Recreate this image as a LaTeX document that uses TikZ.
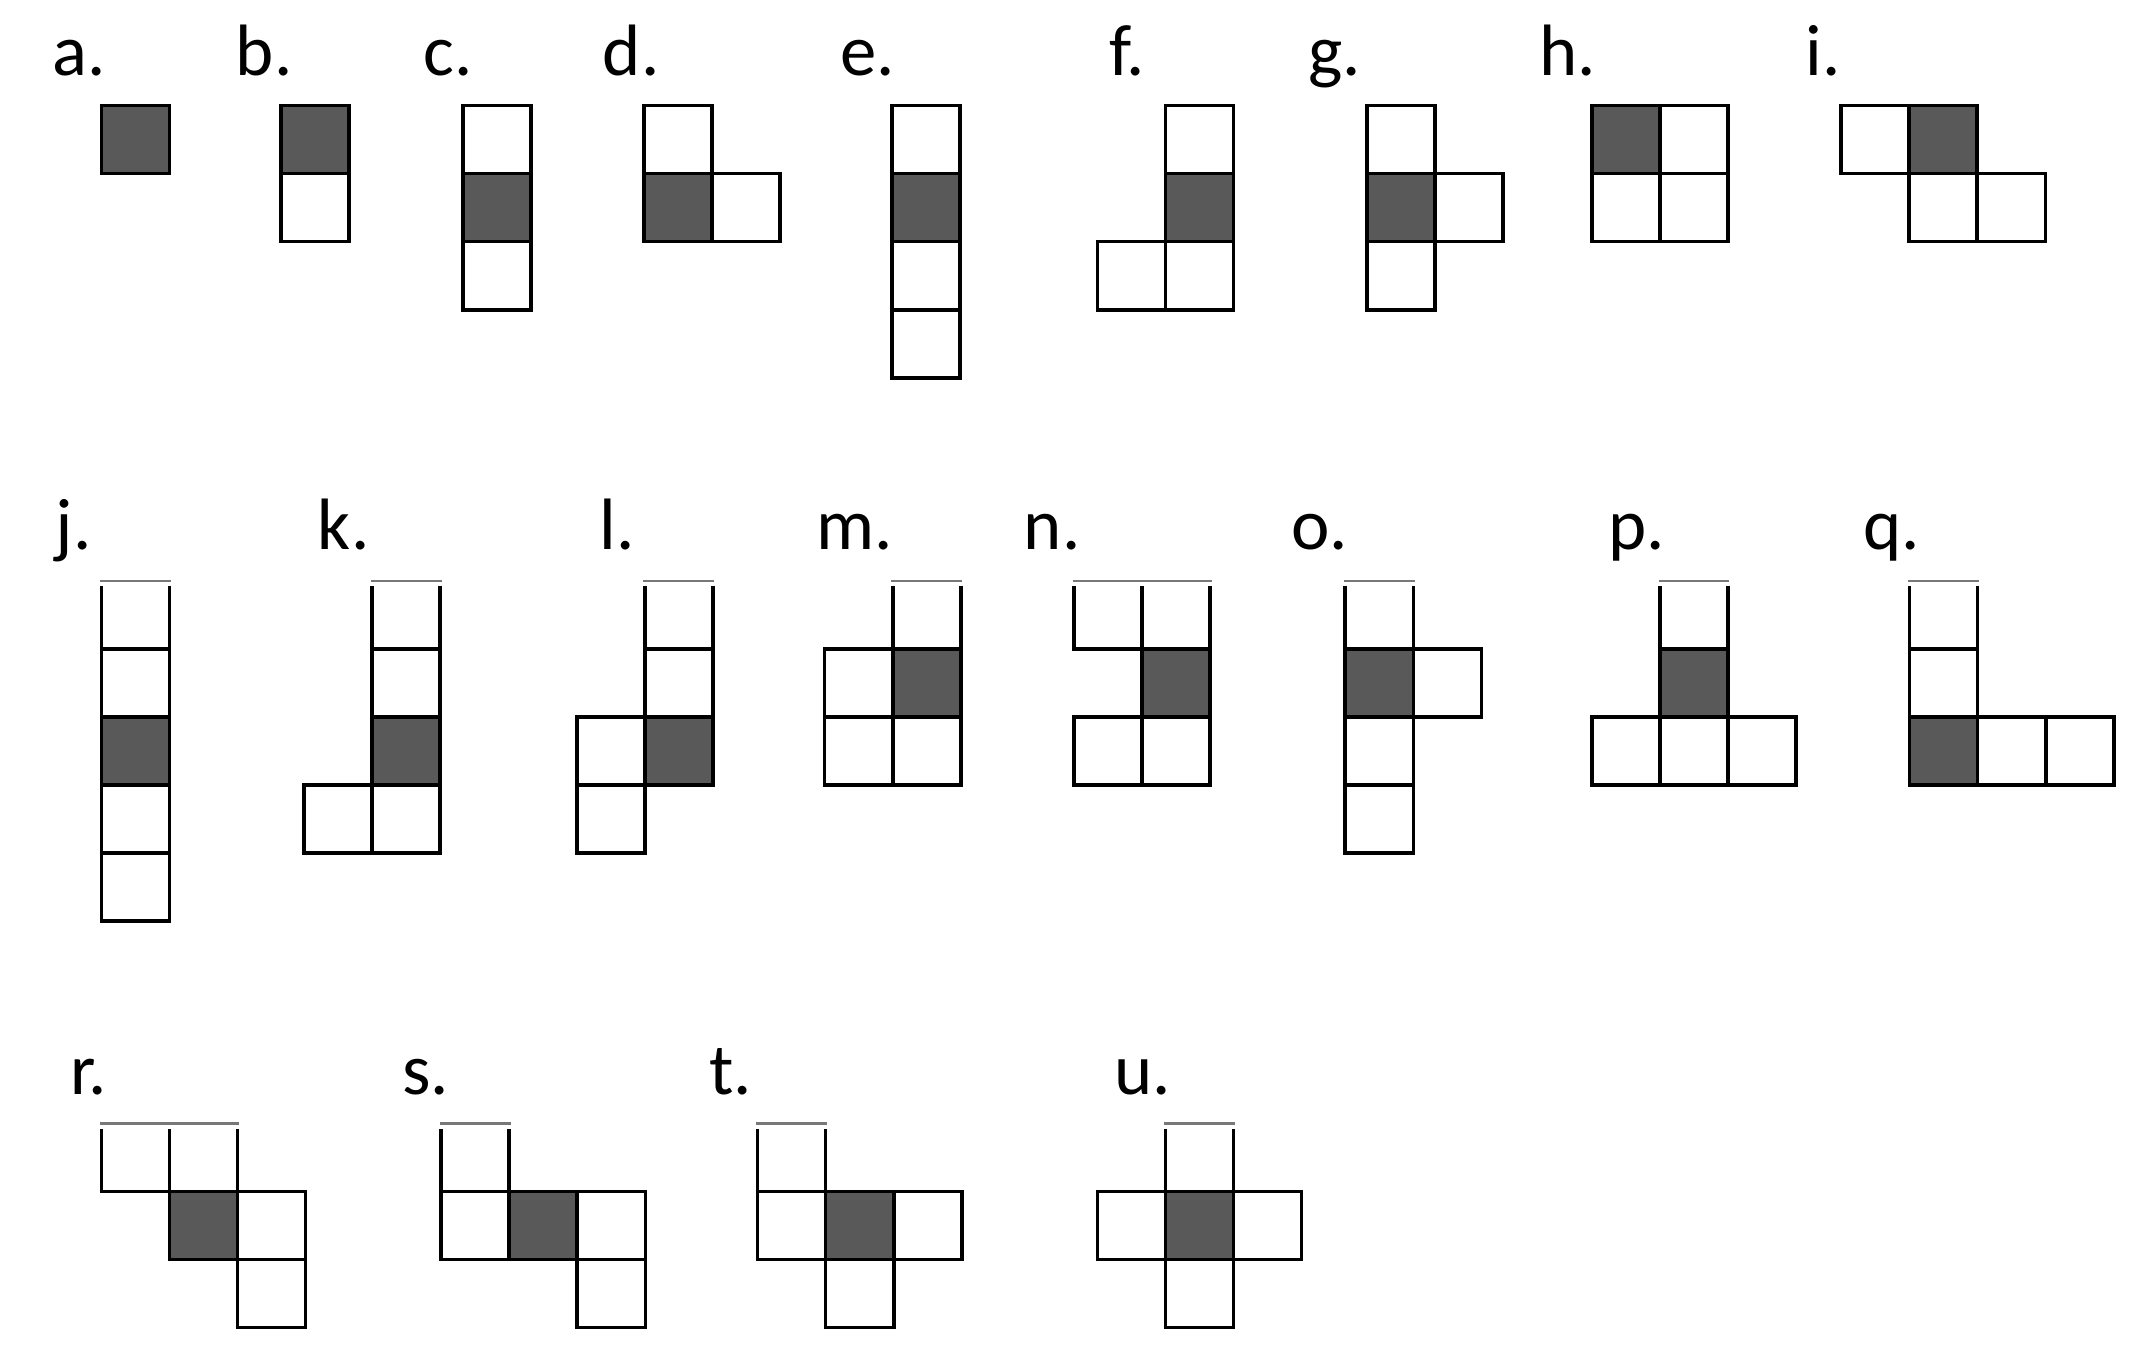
\documentclass[tikz,border=0pt]{standalone}
\usepackage{fontspec}
\setmainfont{Carlito}
\definecolor{coregray}{RGB}{89,89,89}
\definecolor{lidgray}{RGB}{120,120,120}
\begin{document}
\begin{tikzpicture}[
    x=1cm, y=-1cm,
    cell/.style={draw, line width=1.5pt, minimum size=1cm, inner sep=0pt, outer sep=0pt, anchor=north west},
    core/.style={cell, fill=coregray},
    tag/.style={anchor=base west, inner sep=0pt, font=\fontsize{30.4}{36}\selectfont},
    lid/.style={draw=lidgray, line width=1.1pt}
]
\useasboundingbox (0,0) rectangle (31.55,19.947);

% Row 1
\node[tag] (ta) at (0.77,1.115) {a.};
\node[core] (a0) at (1.489,1.549) {};

\node[tag] (tb) at (3.457,1.115) {b.};
\node[cell] (b1) at (4.125,2.549) {};
\node[core] (b0) at (4.125,1.549) {};

\node[tag] (tc) at (6.213,1.115) {c.};
\foreach \dx/\dy [count=\n] in {0/0,0/2} \node[cell] (c\n) at (6.801+\dx,1.549+\dy) {};
\node[core] (c0) at (6.801,2.549) {};

\node[tag] (td) at (8.849,1.115) {d.};
\foreach \dx/\dy [count=\n] in {0/0,1/1} \node[cell] (d\n) at (9.457+\dx,1.549+\dy) {};
\node[core] (d0) at (9.457,2.549) {};

\node[tag] (te) at (12.335,1.115) {e.};
\foreach \dx/\dy [count=\n] in {0/0,0/2,0/3} \node[cell] (e\n) at (13.099+\dx,1.549+\dy) {};
\node[core] (e0) at (13.099,2.549) {};

\node[tag] (tf) at (16.287,1.115) {f.};
\foreach \dx/\dy [count=\n] in {1/0,0/2,1/2} \node[cell] (f\n) at (16.117+\dx,1.549+\dy) {};
\node[core] (f0) at (17.117,2.549) {};

\node[tag] (tg) at (19.205,1.115) {g.};
\foreach \dx/\dy [count=\n] in {0/0,1/1,0/2} \node[cell] (g\n) at (20.080+\dx,1.549+\dy) {};
\node[core] (g0) at (20.080,2.549) {};

\node[tag] (th) at (22.600,1.115) {h.};
\foreach \dx/\dy [count=\n] in {1/0,0/1,1/1} \node[cell] (h\n) at (23.380+\dx,1.549+\dy) {};
\node[core] (h0) at (23.380,1.549) {};

\node[tag] (ti) at (26.514,1.115) {i.};
\foreach \dx/\dy [count=\n] in {0/0,1/1,2/1} \node[cell] (i\n) at (27.042+\dx,1.549+\dy) {};
\node[core] (i0) at (28.042,1.549) {};

% Row 2
\node[tag] (tj) at (0.811,8.077) {j.};
\foreach \dx/\dy [count=\n] in {0/0,0/1,0/3,0/4} \node[cell] (j\n) at (1.489+\dx,8.531+\dy) {};
\node[core] (j0) at (1.489,10.531) {};

\node[tag] (tk) at (4.663,8.077) {k.};
\foreach \dx/\dy [count=\n] in {1/0,1/1,0/3,1/3} \node[cell] (k\n) at (4.467+\dx,8.531+\dy) {};
\node[core] (k0) at (5.467,10.531) {};

\node[tag] (tl) at (8.797,8.077) {l.};
\foreach \dx/\dy [count=\n] in {1/0,1/1,0/2,0/3} \node[cell] (l\n) at (8.471+\dx,8.531+\dy) {};
\node[core] (l0) at (9.471,10.531) {};

\node[tag] (tm) at (11.981,8.077) {m.};
\foreach \dx/\dy [count=\n] in {1/0,0/1,0/2,1/2} \node[cell] (m\n) at (12.113+\dx,8.531+\dy) {};
\node[core] (m0) at (13.113,9.531) {};

\node[tag] (tn) at (15.031,8.077) {n.};
\foreach \dx/\dy [count=\n] in {0/0,1/0,0/2,1/2} \node[cell] (n\n) at (15.775+\dx,8.531+\dy) {};
\node[core] (n0) at (16.775,9.531) {};

\node[tag] (to) at (18.962,8.077) {o.};
\foreach \dx/\dy [count=\n] in {0/0,1/1,0/2,0/3} \node[cell] (o\n) at (19.759+\dx,8.531+\dy) {};
\node[core] (o0) at (19.759,9.531) {};

\node[tag] (tp) at (23.615,8.077) {p.};
\foreach \dx/\dy [count=\n] in {1/0,0/2,1/2,2/2} \node[cell] (p\n) at (23.380+\dx,8.531+\dy) {};
\node[core] (p0) at (24.380,9.531) {};

\node[tag] (tq) at (27.365,8.077) {q.};
\foreach \dx/\dy [count=\n] in {0/0,0/1,1/2,2/2} \node[cell] (q\n) at (28.048+\dx,8.531+\dy) {};
\node[core] (q0) at (28.048,10.531) {};

% Row 3
\node[tag] (tr) at (1.034,16.074) {r.};
\foreach \dx/\dy [count=\n] in {0/0,1/0,2/1,2/2} \node[cell] (r\n) at (1.489+\dx,16.499+\dy) {};
\node[core] (r0) at (2.489,17.499) {};

\node[tag] (ts) at (5.899,16.074) {s.};
\foreach \dx/\dy [count=\n] in {0/0,0/1,2/1,2/2} \node[cell] (s\n) at (6.479+\dx,16.499+\dy) {};
\node[core] (s0) at (7.479,17.499) {};

\node[tag] (tt) at (10.408,16.074) {t.};
\foreach \dx/\dy [count=\n] in {0/0,0/1,2/1,1/2} \node[cell] (t\n) at (11.127+\dx,16.499+\dy) {};
\node[core] (t0) at (12.127,17.499) {};

\node[tag] (tu) at (16.367,16.074) {u.};
\foreach \dx/\dy [count=\n] in {1/0,0/1,2/1,1/2} \node[cell] (u\n) at (16.117+\dx,16.499+\dy) {};
\node[core] (u0) at (17.117,17.499) {};

% open tops of rows 2 and 3
\foreach \l/\r in {j1/j1,k1/k1,l1/l1,m1/m1,n1/n2,o1/o1,p1/p1,q1/q1,r1/r2,s1/s1,t1/t1,u1/u1} {
  \fill[white] ([shift={(-0.04cm,0.05cm)}]\l.north west) rectangle ([shift={(0.04cm,-0.08cm)}]\r.north east);
  \draw[lid] ([xshift=-0.02cm]\l.north west) -- ([xshift=0.02cm]\r.north east);
}

\end{tikzpicture}
\end{document}
